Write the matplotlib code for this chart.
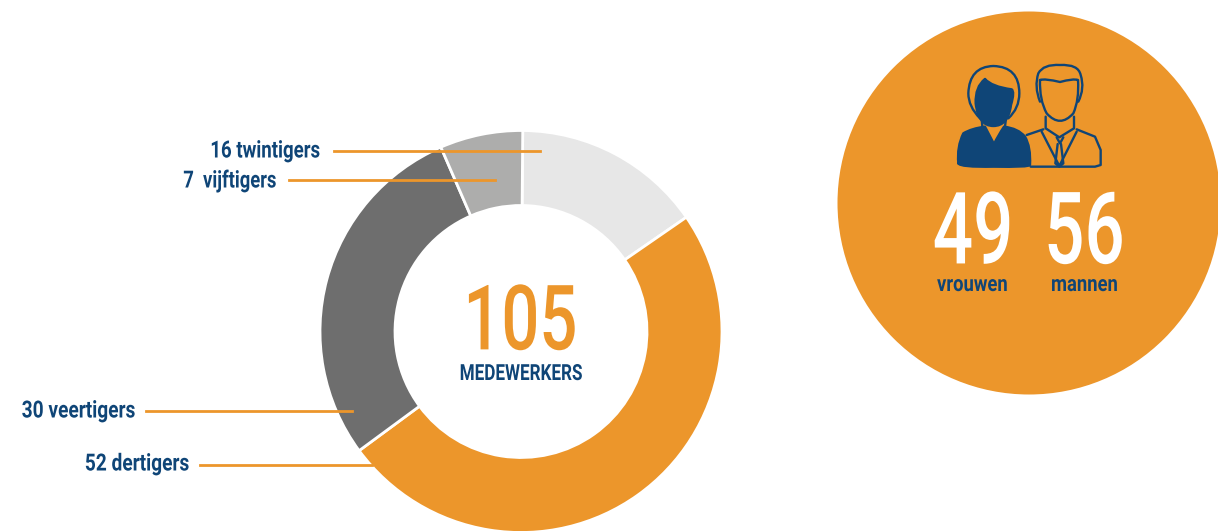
import matplotlib
import matplotlib.pyplot as plt
from matplotlib.patches import Circle, PathPatch
from matplotlib.path import Path
from matplotlib.patheffects import AbstractPathEffect
from matplotlib.transforms import Affine2D

matplotlib.use("Agg")

ages = ["twintigers", "dertigers", "veertigers", "vijftigers"]
counts = [16, 52, 30, 7]
total = 105
women = 49
men = 56

ORANGE = "#EC962B"
BLUE = "#0F4577"
wedge_colors = ["#E7E7E7", ORANGE, "#6E6E6E", "#ADADAC"]


class Condense(AbstractPathEffect):
    """Reshape text around its middle, none of the installed fonts is condensed."""

    def __init__(self, factor, stretch=1.0):
        super().__init__()
        self.factor = factor
        self.stretch = stretch

    def draw_path(self, renderer, gc, tpath, affine, rgbFace=None):
        box = tpath.get_extents()
        x0 = (box.x0 + box.x1) / 2
        y0 = (box.y0 + box.y1) / 2
        shape = Affine2D().translate(-x0, -y0).scale(self.factor, self.stretch).translate(x0, y0)
        renderer.draw_path(gc, tpath, shape + affine, rgbFace)


def label(ax, x, y, s, color, size, factor, weight=700, stretch=1.0):
    ax.text(x, y, s, color=color, family="Roboto", fontsize=size, fontweight=weight,
            ha="center", va="center", zorder=5, path_effects=[Condense(factor, stretch)])


def icon_shape(ax, points, filled=False):
    """Smooth outline, points given in the icon's own 3x grid."""
    pts = [(930 + x / 3, 50 + y / 3) for x, y in points]
    verts = [pts[0]]
    codes = [Path.MOVETO]
    for i in range(1, len(pts) - 1, 2):
        verts += [pts[i], pts[i + 1]]
        codes += [Path.CURVE3, Path.CURVE3]
    ax.add_patch(PathPatch(Path(verts, codes), fc=BLUE if filled else "none", ec=BLUE,
                           lw=1.7, capstyle="round", joinstyle="round", zorder=5))


def icon_line(ax, points):
    pts = [(930 + x / 3, 50 + y / 3) for x, y in points]
    ax.plot(*zip(*pts), color=BLUE, lw=1.7, solid_capstyle="round", zorder=5)


fig = plt.figure(figsize=(12.18, 5.31), dpi=100)
ax = fig.add_axes([0, 0, 1, 1])

# donut, y axis is flipped so a negative startangle is the top and it runs clockwise
ax.pie(counts, colors=wedge_colors, startangle=-89.5, center=(521, 331.5), radius=201,
       wedgeprops=dict(width=75, edgecolor="white", linewidth=2))
ax.set_xlim(0, 1218)
ax.set_ylim(531, 0)
ax.set_aspect("equal")
ax.axis("off")

# leader lines and labels
ax.plot([334, 540], [151, 151], color=ORANGE, lw=2)
ax.plot([289, 495], [179.5, 179.5], color=ORANGE, lw=2)
ax.plot([146, 352], [411, 411], color=ORANGE, lw=2)
ax.plot([200, 372], [465, 465], color=ORANGE, lw=2)
label(ax, 265, 151, f"{counts[0]} {ages[0]}", BLUE, 17, 0.79)
label(ax, 230, 181, f"{counts[3]}  {ages[3]}", BLUE, 17, 0.78)
label(ax, 78.5, 411, f"{counts[2]} {ages[2]}", BLUE, 17, 0.81)
label(ax, 137, 464, f"{counts[1]} {ages[1]}", BLUE, 17, 0.81)

# centre of the donut
label(ax, 520.5, 322, str(total), ORANGE, 46, 1.046, weight=500, stretch=1.413)
label(ax, 521, 374, "MEDEWERKERS", BLUE, 16, 0.77)

# right hand circle
ax.add_patch(Circle((1029, 203), 191.5, fc=ORANGE, ec="none", clip_on=False))
label(ax, 973, 232.5, str(women), "white", 46, 1.11, weight=500, stretch=1.565)
label(ax, 1084.5, 232.5, str(men), "white", 46, 1.11, weight=500, stretch=1.565)
label(ax, 972.5, 285, "vrouwen", BLUE, 16, 0.83)
label(ax, 1084.5, 285, "mannen", BLUE, 16, 0.83)

# woman
icon_shape(ax, [(150, 205), (115, 170), (115, 130), (118, 50), (190, 48), (268, 50), (268, 130),
                (268, 175), (235, 205)])
icon_shape(ax, [(165, 87), (135, 110), (137, 160), (145, 228), (190, 228), (235, 228), (243, 165),
                (255, 125), (245, 118), (185, 110), (165, 87)], filled=True)
icon_shape(ax, [(85, 340), (80, 290), (100, 250), (125, 235), (165, 230), (178, 255), (192, 282),
                (205, 255), (222, 230), (265, 235), (285, 260), (303, 290), (300, 345), (298, 352),
                (190, 350), (90, 352), (85, 340)], filled=True)
icon_line(ax, [(155, 205), (157, 230)])
icon_line(ax, [(228, 205), (225, 230)])

# man
icon_shape(ax, [(330, 155), (312, 110), (325, 70), (340, 42), (390, 45), (445, 42), (452, 75),
                (465, 115), (445, 155)])
icon_shape(ax, [(330, 90), (345, 85), (390, 96), (430, 85), (444, 90), (448, 150), (430, 190),
                (390, 235), (350, 190), (328, 150), (330, 90)])
icon_line(ax, [(347, 200), (347, 235), (388, 262), (432, 235), (432, 200)])
icon_line(ax, [(302, 350), (495, 350), (512, 345), (512, 300), (495, 260), (440, 238)])
icon_line(ax, [(340, 238), (290, 255)])
icon_line(ax, [(335, 245), (388, 348), (440, 245)])
icon_line(ax, [(380, 262), (390, 280), (400, 262)])
icon_line(ax, [(383, 282), (376, 340), (388, 350), (400, 340), (393, 282)])

fig.savefig("out.png", dpi=100)
plt.close(fig)
